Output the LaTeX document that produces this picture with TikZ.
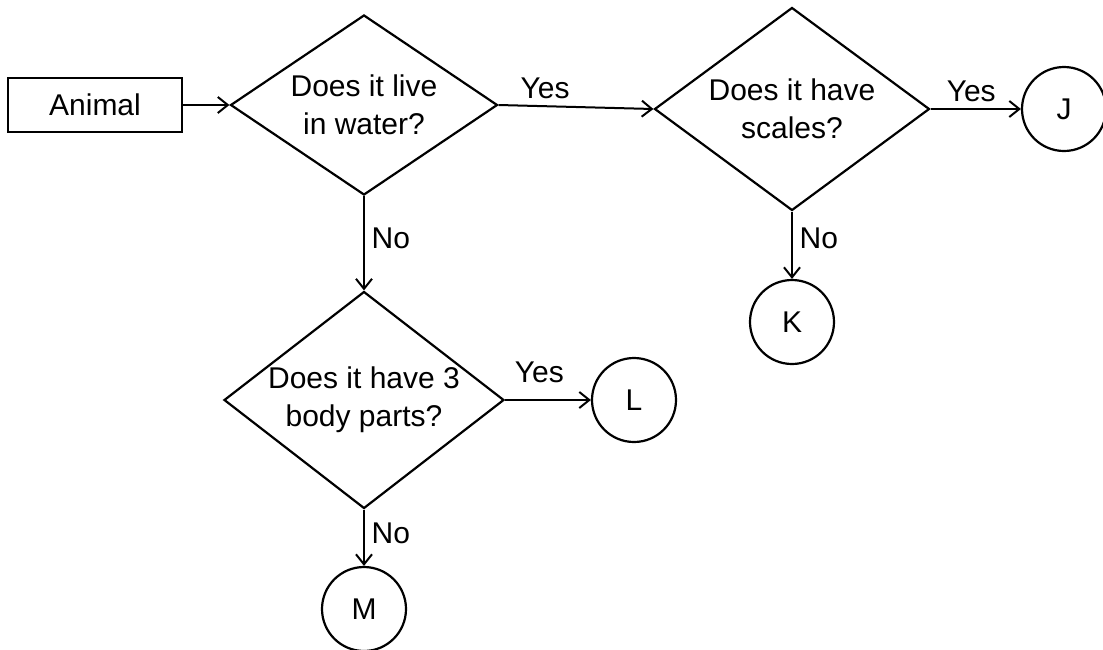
\documentclass[tikz,border=0pt]{standalone}
\usepackage{fontspec}
\setmainfont{Liberation Sans}
\usetikzlibrary{shapes.geometric,arrows.meta}
\tikzset{
  decision/.style={draw,shape=diamond,inner sep=0pt,align=center,line width=1.1pt},
  startbox/.style={draw,rectangle,minimum width=87pt,minimum height=27pt,line width=1.1pt},
  leaf/.style={draw,circle,minimum size=42pt,inner sep=0pt,line width=1.1pt},
  flow/.style={line width=1pt,-{Straight Barb[length=5pt,width=8pt]}}
}
\begin{document}
\begin{tikzpicture}[x=0.5pt, y=-0.5pt, font=\fontsize{15}{19}\selectfont]
\useasboundingbox (0,0) rectangle (1103,649);
\node[startbox] (animal) at (95,105) {Animal};
\node[decision,minimum width=133.5pt,minimum height=90pt,aspect=1.48] (water) at (364,105) {Does it live\\in water?};
\node[decision,minimum width=137.5pt,minimum height=101.5pt,aspect=1.35] (scales) at (792,109) {Does it have\\scales?};
\node[decision,minimum width=140pt,minimum height=108.5pt,aspect=1.3] (body) at (364,400) {Does it have 3\\body parts?};
\node[leaf] (J) at (1064,109) {J};
\node[leaf] (K) at (792,322) {K};
\node[leaf] (L) at (634,400) {L};
\node[leaf] (M) at (364,609) {M};

\draw[flow] (animal.east) -- (water.west);
\draw[flow] (water.east) -- node[above,pos=.3]{Yes} (scales.west);
\draw[flow] (scales.east) -- node[above,pos=.45]{Yes} (J.west);
\draw[flow] (scales.south) -- node[right,pos=.4]{No} (K.north);
\draw[flow] (water.south) -- node[right,pos=.45]{No} (body.north);
\draw[flow] (body.east) -- node[above,pos=.4,yshift=5pt]{Yes} (L.west);
\draw[flow] (body.south) -- node[right,pos=.42]{No} (M.north);
\end{tikzpicture}
\end{document}
